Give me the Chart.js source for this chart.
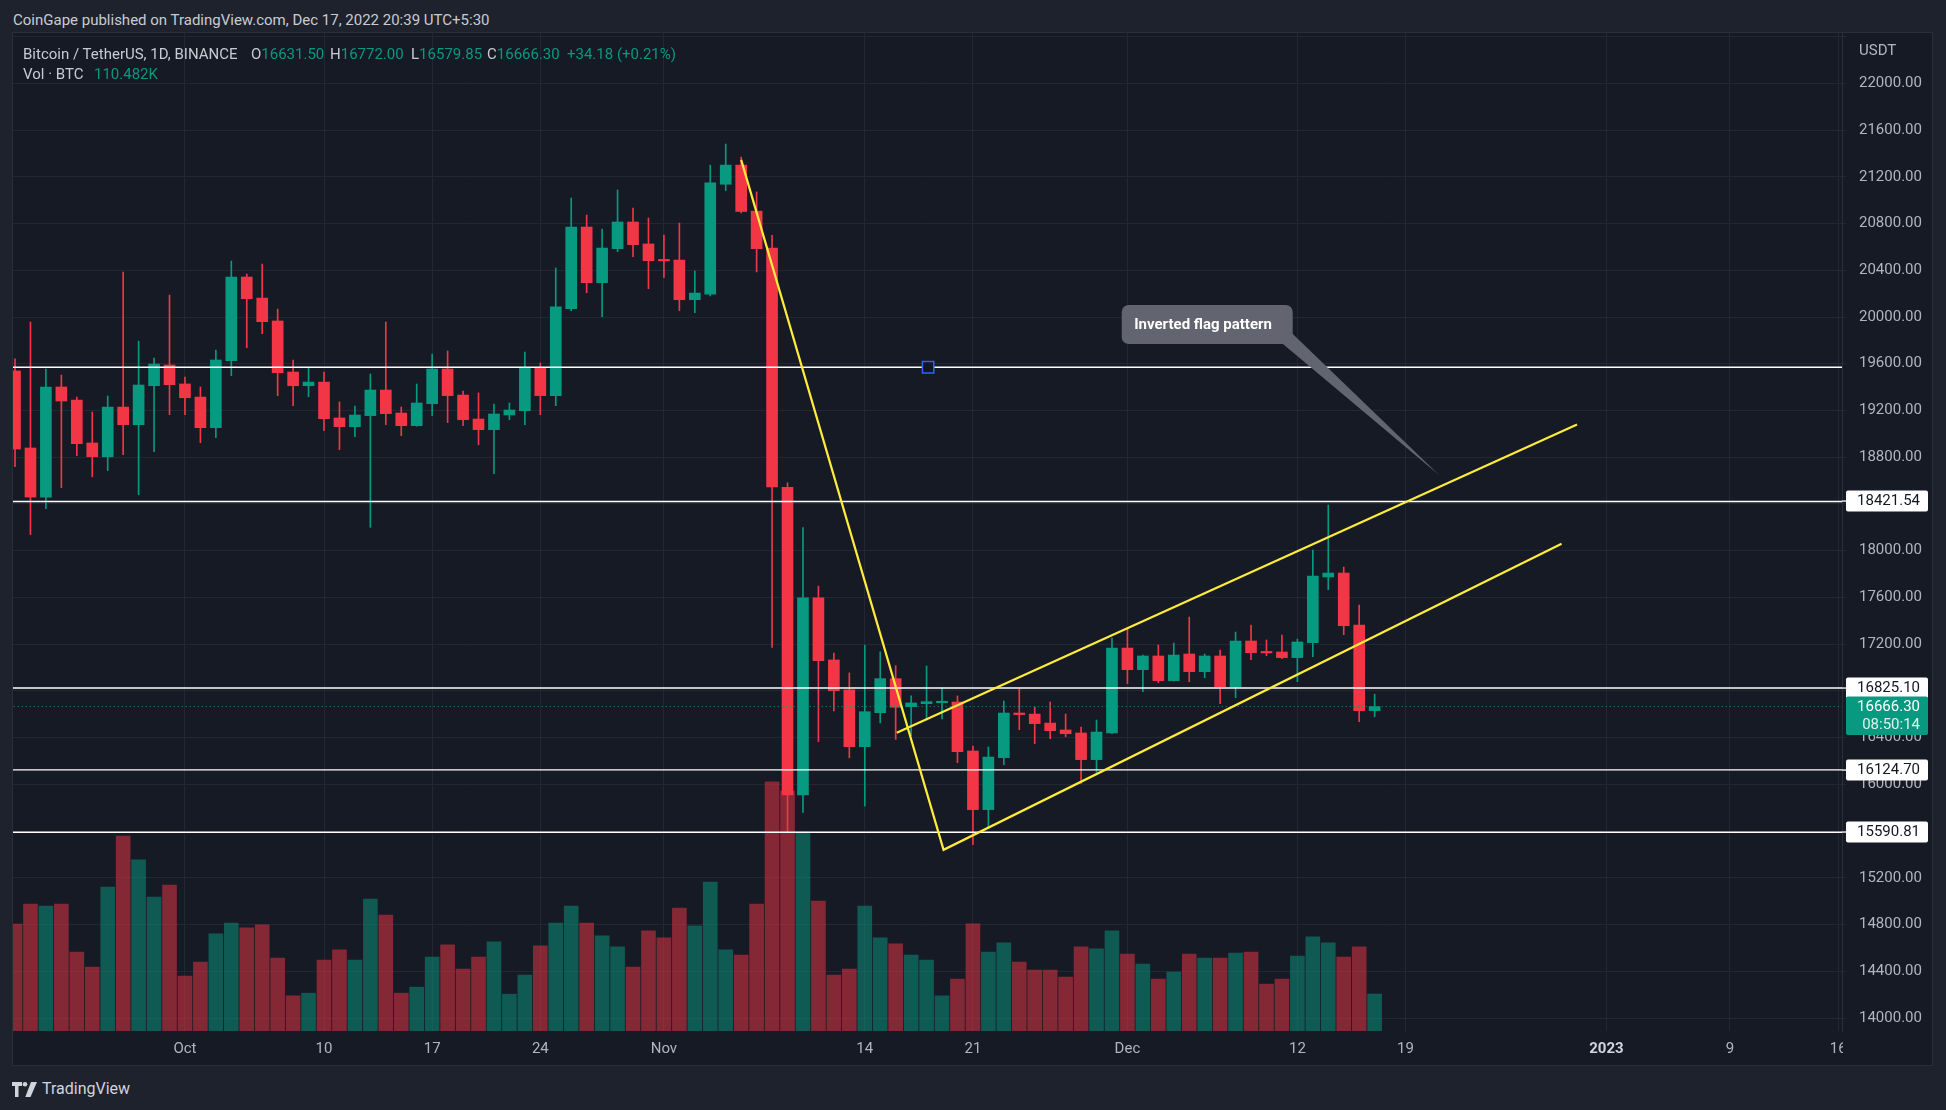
<!DOCTYPE html>
<html><head><meta charset="utf-8">
<script src="https://cdn.jsdelivr.net/npm/chart.js@4.4.1/dist/chart.umd.min.js"></script>
<style>
html,body{margin:0;padding:0;}
body{width:1946px;height:1110px;background:#1e222d;position:relative;overflow:hidden;font-family:Roboto,'Liberation Sans',Arial,sans-serif;}
#hdr{position:absolute;left:13px;top:11px;font-size:15px;line-height:18px;color:#c8cbd3;white-space:nowrap;}
#panel{position:absolute;left:12px;top:32px;width:1921px;height:1034px;box-sizing:border-box;border:1px solid #2a2e39;background:#161a25;}
#c{position:absolute;left:0;top:0;}
.lg{position:absolute;font-size:15px;line-height:18px;color:#c8cbd3;white-space:nowrap;}
.v{color:#089981;}
#foot{position:absolute;left:42px;top:1080px;font-size:16px;line-height:18px;color:#d1d4dc;}
#logo{position:absolute;left:12px;top:1082px;}
</style></head>
<body>
<div id="hdr">CoinGape published on TradingView.com, Dec 17, 2022 20:39 UTC+5:30</div>
<div id="panel"><canvas id="c" width="1919" height="1032" style="width:1919px;height:1032px"></canvas></div>
<div class="lg" style="left:23px;top:45px">Bitcoin / TetherUS, 1D, BINANCE</div>
<div class="lg" id="lO" style="left:251px;top:45px"></div>
<div class="lg" id="lH" style="left:330px;top:45px"></div>
<div class="lg" id="lL" style="left:411px;top:45px"></div>
<div class="lg" id="lC" style="left:487px;top:45px"></div>
<div class="lg v" id="lChg" style="left:567px;top:45px"></div>
<div class="lg" style="left:23px;top:65px">Vol · BTC</div>
<div class="lg v" id="lVol" style="left:94px;top:65px"></div>
<svg id="logo" width="26" height="15" viewBox="0 0 26 15"><path d="M0 0h10v4H6.5v11H3V4H0z" fill="#d1d4dc"/><circle cx="13" cy="2.3" r="2.3" fill="#d1d4dc"/><path d="M19 0h6l-6.5 15h-5.2z" fill="#d1d4dc"/></svg>
<div id="foot">TradingView</div>
<script>
// ---- data (BTC/USDT daily, Binance), index 0 = 2022-09-20 ----
const opens = [
19538,18879,18459,19401,19289,18922,18804,19229,19078,19412,
19589,19427,19315,19053,19626,20342,20162,19966,19529,19412,
19443,19136,19061,19156,19375,19178,19070,19258,19555,19332,
19127,19036,19162,19198,19564,19327,20071,20770,20294,20585,
20813,20625,20487,20487,20148,20195,21136,21300,20906,20589,
18542,15910,17597,17065,16809,16323,16614,16905,16665,16691,
16699,16705,16286,15784,16229,16611,16602,16525,16466,16440,
16212,16440,17167,16982,17099,16888,17116,16965,17099,16836,
17227,17130,17133,17085,17213,17775,17809,17364,16631.50];
const highs = [
19641,19957,19555,19503,19315,19187,19324,20385,19794,19649,
20188,19486,19401,19717,20479,20368,20453,20068,19632,19563,
19529,19273,19238,19512,19957,19230,19427,19683,19709,19367,
19350,19255,19264,19700,19606,20419,21018,20873,20753,21087,
20933,20847,20702,20804,20394,21300,21480,21369,21071,20700,
18580,18198,17697,17123,16954,17192,17135,17016,16757,17013,
16825,16757,16329,16320,16714,16816,16662,16705,16602,16491,
16551,17253,17330,17107,17193,17210,17432,17116,17150,17304,
17364,17236,17278,17244,18006,18391,17860,17535,16772.00];
const lows = [
18719,18137,18359,18539,18813,18633,18685,18821,18479,18847,
19164,19164,18924,18967,19498,19737,19857,19326,19241,19318,
19027,18865,18976,18200,19079,18984,19065,19156,19096,19070,
18907,18659,19121,19079,19164,19241,20054,20208,20003,20559,
20516,20242,20337,20054,20037,20180,21082,20891,20386,17173,
15589,15761,16366,16629,16227,15815,16526,16385,16417,16551,
16560,16186,15484,15630,16169,16468,16349,16391,16409,16009,
16103,16434,16862,16794,16871,16885,16879,16913,16691,16742,
17067,17102,17076,16879,17093,17666,17281,16537,16579.85];
const closes = [
18870,18459,19401,19281,18916,18804,19229,19078,19418,19597,
19421,19309,19053,19632,20342,20157,19960,19523,19412,19443,
19130,19061,19161,19375,19173,19070,19264,19555,19327,19121,
19036,19170,19204,19564,19327,20086,20770,20294,20590,20813,
20619,20482,20480,20148,20205,21148,21300,20903,20585,18546,
15910,17597,17058,16801,16323,16622,16905,16660,16697,16708,
16708,16280,15784,16234,16611,16597,16520,16460,16434,16212,
16448,17167,16982,17099,16888,17107,16965,17099,16836,17227,
17127,17125,17085,17219,17783,17809,17358,16631,16666.30];
const volumesK = [
319.5,379,373,379,236,191,430,582,511,400,
436,164,206,290,322,308,317,218,105,113,
212,242,212,394,346,113,131,221,257,185,
221,266,110,167,254,322,373,322,284,251,
191,299,278,367,314,445,242,227,379,744,
717,594,388,167,185,373,278,260,227,212,
105,155,320,236,263,206,182,182,161,251,
245,299,230,200,155,176,230,218,218,233,
236,140,155,224,281,263,221,251,110.482];
const tickDays   = [11,20,27,34,42,55,62,72,83,90,103,111,118];
const tickLabels = ['Oct','10','17','24','Nov','14','21','Dec','12','19','2023','9','16'];
const priceTicks = [14000,14400,14800,15200,15600,16000,16400,16800,17200,17600,18000,18400,18800,19200,19600,20000,20400,20800,21200,21600,22000,22400];
const levelPrices = [19570, 18421.54, 16825.10, 16124.70, 15590.81];
const levelTags   = ['', '18421.54', '16825.10', '16124.70', '15590.81'];
const countdown = '08:50:14';
const flagPath  = [{x:47.0,y:21345},{x:60.1,y:15440},{x:100.1,y:18060}];
const flagUpper = [{x:57.07,y:16443},{x:101.1,y:19080}];
const handlePoint = [{x:59.1,y:19570}];
const callout = {text:'Inverted flag pattern', x0:71.63, y0:20103, x1:82.7, y1:19769, tipX:92.19, tipY:18645};

// ---- styles ----
const FONT = "Roboto, 'Liberation Sans', Arial, sans-serif";
const UP = '#089981', DOWN = '#f23645';
const VOL_UP = 'rgba(8,153,129,0.5)', VOL_DOWN = 'rgba(242,54,69,0.5)';
const YELLOW = '#ffeb3b', PANEL_BG = '#161a25', GRID = '#232733';

const n = opens.length;
const last = n - 1;
const lastPrice = closes[last];
document.getElementById('lO').innerHTML = 'O<span class="v">' + opens[last].toFixed(2) + '</span>';
document.getElementById('lH').innerHTML = 'H<span class="v">' + highs[last].toFixed(2) + '</span>';
document.getElementById('lL').innerHTML = 'L<span class="v">' + lows[last].toFixed(2) + '</span>';
document.getElementById('lC').innerHTML = 'C<span class="v">' + closes[last].toFixed(2) + '</span>';
document.getElementById('lChg').textContent = '+34.18 (+0.21%)';
document.getElementById('lVol').textContent = volumesK[last].toFixed(3) + 'K';

const up = closes.map((c, i) => c >= opens[i]);
const candleCol = up.map(u => u ? UP : DOWN);
const volCol = up.map(u => u ? VOL_UP : VOL_DOWN);
const bodies = opens.map((o, i) => ({x: i, y: [o, closes[i]]}));
const wicks = lows.map((l, i) => ({x: i, y: [l, highs[i]]}));
const vols = volumesK.map((v, i) => ({x: i, y: v}));
const isBoldTick = c => !!(c && c.tick && tickLabels[tickDays.indexOf(c.tick.value)] === '2023');

const overlay = {
  id: 'overlay',
  afterDatasetsDraw(chart) {
    const {ctx} = chart; const xs = chart.scales.x, ys = chart.scales.y;
    const bx0 = xs.getPixelForValue(callout.x0), by0 = ys.getPixelForValue(callout.y0);
    const bx1 = xs.getPixelForValue(callout.x1), by1 = ys.getPixelForValue(callout.y1);
    const tx = xs.getPixelForValue(callout.tipX), ty = ys.getPixelForValue(callout.tipY);
    ctx.save();
    ctx.fillStyle = '#62656f';
    ctx.beginPath(); ctx.moveTo(bx1 - 11, by1 - 1); ctx.lineTo(bx1 - 1, by1 - 11); ctx.lineTo(tx, ty); ctx.closePath(); ctx.fill();
    ctx.beginPath(); ctx.roundRect(bx0, by0, bx1 - bx0, by1 - by0, 7); ctx.fill();
    ctx.fillStyle = '#ffffff'; ctx.font = 'bold 15px ' + FONT; ctx.textBaseline = 'middle'; ctx.textAlign = 'left';
    ctx.fillText(callout.text, bx0 + 12.5, (by0 + by1) / 2 + 1);
    ctx.restore();
  },
  afterDraw(chart) {
    const {ctx, chartArea} = chart; const ys = chart.scales.y;
    const R = chartArea.right;
    ctx.save();
    ctx.fillStyle = PANEL_BG;
    ctx.fillRect(R + 1, chartArea.bottom + 1, chart.width - R, chart.height - chartArea.bottom);
    ctx.font = '15px ' + FONT; ctx.textBaseline = 'middle';
    ctx.fillStyle = '#b2b5be'; ctx.textAlign = 'left';
    ctx.fillText('USDT', R + 17, 18);
    ctx.textAlign = 'right';
    levelPrices.forEach((v, k) => {
      if (!levelTags[k]) return;
      const py = Math.round(ys.getPixelForValue(v));
      ctx.fillStyle = '#ffffff';
      ctx.fillRect(R, py - 0.6, 5, 1.3);
      ctx.beginPath(); ctx.roundRect(R + 4, py - 10.5, 82, 21, 2); ctx.fill();
      ctx.fillStyle = '#131722';
      ctx.fillText(levelTags[k], R + 78, py + 0.5);
    });
    const cy = ys.getPixelForValue(lastPrice);
    ctx.fillStyle = UP;
    ctx.beginPath(); ctx.roundRect(R + 4, cy - 10, 82, 38.5, 2); ctx.fill();
    ctx.fillStyle = '#ffffff';
    ctx.fillText(lastPrice.toFixed(2), R + 78, cy + 1);
    ctx.fillStyle = '#e0f2ee';
    ctx.fillText(countdown, R + 78, cy + 19);
    ctx.restore();
  }
};

const lineDefaults = {type: 'line', pointRadius: 0, fill: false, tension: 0};
new Chart(document.getElementById('c').getContext('2d'), {
  type: 'bar',
  data: {
    datasets: [
      {...lineDefaults, data: handlePoint, showLine: false, pointStyle: 'rect', pointRadius: 8,
        pointBackgroundColor: '#131722', pointBorderColor: '#2962ff', pointBorderWidth: 1.5, order: 0},
      {...lineDefaults, data: flagPath, borderColor: YELLOW, borderWidth: 2.2, borderJoinStyle: 'miter', order: 1},
      {...lineDefaults, data: flagUpper, borderColor: YELLOW, borderWidth: 2.2, order: 1},
      ...levelPrices.map(v => ({...lineDefaults, data: [{x: -5, y: v}, {x: 125, y: v}], borderColor: '#ffffff', borderWidth: 1.4, order: 2})),
      {...lineDefaults, data: [{x: -5, y: lastPrice}, {x: 125, y: lastPrice}], borderColor: UP, borderWidth: 1, borderDash: [1, 3], order: 3},
      {type: 'bar', data: bodies, backgroundColor: candleCol, barThickness: 11, grouped: false, minBarLength: 1.5, order: 4},
      {type: 'bar', data: wicks, backgroundColor: candleCol, barThickness: 1, grouped: false, order: 5},
      {type: 'bar', data: vols, yAxisID: 'yv', backgroundColor: volCol, barThickness: 14, grouped: false, order: 6}
    ]
  },
  options: {
    responsive: false, animation: false, maintainAspectRatio: false,
    layout: {padding: 0, autoPadding: false},
    events: [],
    plugins: {legend: {display: false}, tooltip: {enabled: false}},
    scales: {
      x: {
        type: 'linear', min: -0.13, max: 118.25, offset: false,
        afterBuildTicks: s => { s.ticks = tickDays.map(v => ({value: v})); },
        afterFit: s => { s.height = 34; s.paddingLeft = 0; s.paddingRight = 0; },
        grid: {color: GRID, drawTicks: false, offset: false},
        border: {display: false},
        ticks: {
          autoSkip: false, maxRotation: 0, padding: 9,
          color: c => isBoldTick(c) ? '#d1d4dc' : '#b2b5be',
          font: c => ({family: FONT, size: 15, weight: isBoldTick(c) ? 'bold' : 'normal'}),
          callback: v => { const k = tickDays.indexOf(v); return k < 0 ? '' : tickLabels[k]; }
        }
      },
      y: {
        type: 'linear', position: 'right', min: 13889.6, max: 22430.5,
        afterBuildTicks: s => { s.ticks = priceTicks.map(v => ({value: v})); },
        afterFit: s => { s.width = 90; s.paddingTop = 0; s.paddingBottom = 0; },
        grid: {color: GRID, drawTicks: true, tickLength: 4},
        border: {display: true, color: '#2a2e39'},
        ticks: {
          padding: 13, color: '#b2b5be', font: {family: FONT, size: 15},
          callback: v => v === 22400 ? '' : Number(v).toFixed(2)
        }
      },
      yv: {type: 'linear', display: false, min: 0, max: 2980}
    }
  },
  plugins: [overlay]
});
</script>
</body></html>
